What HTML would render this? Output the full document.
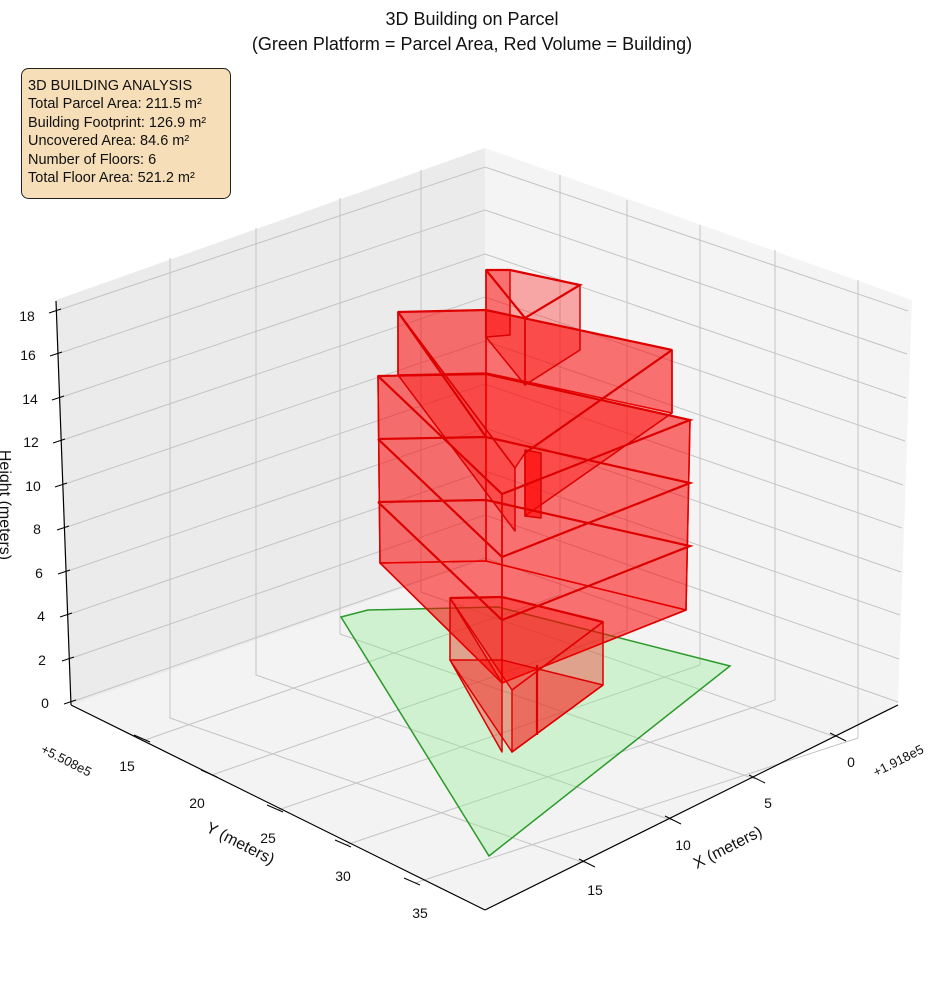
<!DOCTYPE html>
<html><head><meta charset="utf-8"><style>
body{margin:0;background:#fff;}
svg text{font-family:"Liberation Sans","DejaVu Sans",sans-serif;}
</style></head><body>
<svg width="944" height="992" viewBox="0 0 944 992" xmlns="http://www.w3.org/2000/svg">
<rect width="944" height="992" fill="#fff"/>
<polygon points="71,705 56,300 485,148 485,560" fill="#ebebeb"/>
<polygon points="485,560 485,148 912,300 898,705" fill="#f4f4f4"/>
<polygon points="71,705 485,560 898,705 485,910" fill="#f3f3f3"/>
<g stroke="#c4c4c4" stroke-width="1" fill="none">
<polyline points="71,702 485,558 898,702"/>
<polyline points="69,659 485,515 899,659"/>
<polyline points="67,615 485,471 900,615"/>
<polyline points="65,572 485,428 901,572"/>
<polyline points="64,528 485,384 902,528"/>
<polyline points="62,485 485,341 903,485"/>
<polyline points="60,441 485,297 905,441"/>
<polyline points="59,398 485,254 906,398"/>
<polyline points="57,354 485,210 907,354"/>
<polyline points="56,311 485,167 908,311"/>
<polyline points="145,740 560,595 560,175"/>
<polyline points="212,775 627,630 627,200"/>
<polyline points="278,810 700,665 700,225"/>
<polyline points="346,845 775,700 775,250"/>
<polyline points="415,883 858,738 858,280"/>
<polyline points="836,737 421,592 421,170"/>
<polyline points="755,779 340,634 340,198"/>
<polyline points="671,820 256,675 256,228"/>
<polyline points="585,863 170,718 170,258"/>
</g>
<g stroke="#000" stroke-width="1.2" fill="none">
<line x1="56" y1="301" x2="71" y2="705"/>
<line x1="71" y1="705" x2="485" y2="910"/>
<line x1="485" y1="910" x2="898" y2="705"/>
</g>
<g stroke="#000" stroke-width="1">
<line x1="64" y1="704" x2="76" y2="700"/><line x1="62" y1="661" x2="74" y2="657"/>
<line x1="60" y1="617" x2="72" y2="613"/><line x1="58" y1="574" x2="70" y2="570"/>
<line x1="57" y1="530" x2="69" y2="526"/><line x1="55" y1="487" x2="67" y2="483"/>
<line x1="53" y1="443" x2="65" y2="439"/><line x1="52" y1="400" x2="64" y2="396"/>
<line x1="50" y1="356" x2="62" y2="352"/><line x1="49" y1="313" x2="61" y2="309"/>
<line x1="134" y1="735" x2="150" y2="742"/><line x1="201" y1="770" x2="217" y2="777"/>
<line x1="267" y1="805" x2="283" y2="812"/><line x1="335" y1="840" x2="351" y2="847"/>
<line x1="404" y1="878" x2="420" y2="885"/>
<line x1="830" y1="733" x2="846" y2="741"/><line x1="749" y1="775" x2="765" y2="783"/>
<line x1="665" y1="816" x2="681" y2="824"/><line x1="579" y1="859" x2="595" y2="867"/>
</g>
<g font-size="14" fill="#111" text-anchor="middle">
<text x="45" y="708">0</text><text x="42" y="665">2</text><text x="41" y="621">4</text>
<text x="39" y="578">6</text><text x="37" y="534">8</text><text x="33" y="491">10</text>
<text x="31" y="447">12</text><text x="30" y="404">14</text><text x="28" y="360">16</text>
<text x="27" y="321">18</text>
<text x="127" y="771">15</text><text x="197" y="808">20</text><text x="268" y="843">25</text>
<text x="343" y="881">30</text><text x="420" y="918">35</text>
<text x="851" y="767">0</text><text x="768" y="808">5</text><text x="683" y="850">10</text>
<text x="595" y="895">15</text>
</g>
<text font-size="13" fill="#111" transform="translate(40,752) rotate(27)">+5.508e5</text>
<text font-size="13" fill="#111" transform="translate(876,777) rotate(-27)">+1.918e5</text>
<text font-size="16" fill="#111" text-anchor="middle" transform="translate(238,848) rotate(27)">Y (meters)</text>
<text font-size="16" fill="#111" text-anchor="middle" transform="translate(730,852) rotate(-27)">X (meters)</text>
<text font-size="16" fill="#111" text-anchor="middle" transform="translate(0,505) rotate(90)">Height (meters)</text>
<polygon points="341,617 368,610 498,607 730,666 489,856" fill="rgba(144,238,144,0.35)" stroke="#2a9a2a" stroke-width="1.5"/>
<g fill="rgba(255,0,0,0.32)" stroke="#dd0000" stroke-width="1.5" stroke-linejoin="round">
<polygon points="380,563 486,561 686,610 502,683"/>
<polygon points="378,376 486,374 486,561 380,563"/>
<polygon points="486,374 690,420 686,610 486,561"/>
<polygon points="378,376 502,494 502,683 380,563"/>
<polygon points="502,494 690,420 686,610 502,683"/>
<polygon points="378,376 486,374 690,420 502,494"/>
<polygon points="398,312 486,310 486,373 398,375"/>
<polygon points="486,310 672,350 672,413 486,373"/>
<polygon points="398,312 515,468 515,531 398,375"/>
<polygon points="525,453 672,350 672,413 525,516"/>
<polygon points="398,312 486,310 672,350 525,453 515,468"/>
<polygon points="486,270 510,270 580,285 525,318"/>
<polygon points="486,270 525,318 525,385 486,337"/>
<polygon points="525,318 580,285 580,350 525,385"/>
<polygon points="486,270 510,270 510,335 486,337"/>
<polygon points="525,450 541,453 541,518 525,516" fill="rgba(255,0,0,0.6)"/>
<polygon points="450,598 502,597 603,622 512,690"/>
<polygon points="450,598 502,683 502,752 450,660"/>
<polygon points="512,690 603,622 603,685 512,752"/>
<polygon points="450,660 502,660 603,685 512,752"/>
</g>
<g stroke="#dd0000" stroke-width="2.2" fill="none">
<polyline points="378,376 486,374 690,420 502,494 378,376"/>
<polyline points="378,439 486,437 690,483 502,557 378,439"/>
<polyline points="378,502 486,500 690,546 502,620 378,502"/>
<polyline points="398,312 486,310 672,350"/>
<polyline points="486,270 510,270 580,285 525,318 486,270"/>
<polyline points="450,598 502,597 603,622"/>
<line x1="398" y1="312" x2="486" y2="437"/>
<line x1="672" y1="350" x2="525" y2="453"/>
<line x1="537" y1="665" x2="537" y2="735"/>
</g>
<rect x="21.5" y="68.5" width="209" height="130" rx="7" fill="#f6deb8" stroke="#222" stroke-width="1"/>
<g font-size="14.5" fill="#111">
<text x="28" y="90">3D BUILDING ANALYSIS</text>
<text x="28" y="108">Total Parcel Area: 211.5 m²</text>
<text x="28" y="127">Building Footprint: 126.9 m²</text>
<text x="28" y="145">Uncovered Area: 84.6 m²</text>
<text x="28" y="164">Number of Floors: 6</text>
<text x="28" y="182">Total Floor Area: 521.2 m²</text>
</g>
<g font-size="18" fill="#111" text-anchor="middle">
<text x="472" y="25">3D Building on Parcel</text>
<text x="472" y="50">(Green Platform = Parcel Area, Red Volume = Building)</text>
</g>
</svg>
</body></html>
